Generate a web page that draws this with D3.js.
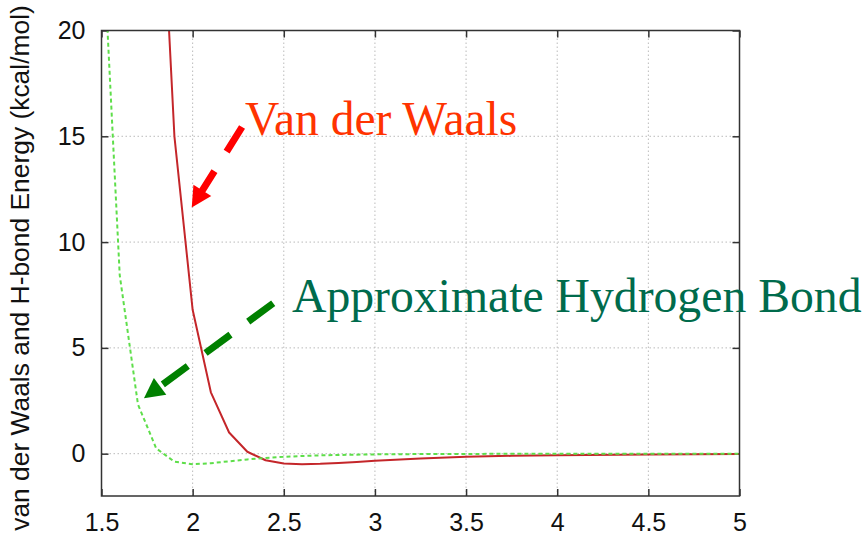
<!DOCTYPE html>
<html><head><meta charset="utf-8">
<script src="https://cdn.jsdelivr.net/npm/d3@7"></script>
<style>body{margin:0;background:#fff}svg{display:block}</style>
</head><body><svg id="c" width="868" height="540"></svg>
<script>
// ---- data ----
const distance    = [1.5, 1.6, 1.7, 1.8, 1.9, 2.0, 2.1, 2.2, 2.3, 2.4, 2.5, 2.6, 2.7, 2.8, 2.9, 3.0, 3.25, 3.5, 3.75, 4.0, 4.5, 5.0];
const vdwEnergy   = [null, null, null, 32, 15, 6.8, 2.9, 1.0, 0.09, -0.31, -0.46, -0.5, -0.48, -0.44, -0.39, -0.33, -0.23, -0.15, -0.1, -0.07, -0.035, -0.02];
const hbondEnergy = [25.7, 8.44, 2.33, 0.25, -0.38, -0.5, -0.45, -0.36, -0.27, -0.2, -0.15, -0.11, -0.08, -0.06, -0.045, -0.033, -0.018, -0.011, -0.006, -0.003, -0.001, 0.0];
const xTicks = [1.5, 2, 2.5, 3, 3.5, 4, 4.5, 5];
const yTicks = [0, 5, 10, 15, 20];
const xDomain = [1.5, 5];
const yDomain = [-2, 20];
const yTitle = "van der Waals and H-bond Energy (kcal/mol)";
const annotationTexts = ["Van der Waals", "Approximate Hydrogen Bond"];
const annotationAt = [[2.287, 15.06], [2.545, 6.70]];          // data coords of text start / baseline
const arrowFrom = [[2.271, 15.44], [2.442, 7.11]];             // data coords
const arrowTo   = [[1.995, 11.64], [1.733, 2.62]];

// ---- layout / style ----
const W = 868, H = 540;
const plot = {left: 101.5, right: 739.5, top: 30.5, bottom: 496};
const svg = d3.select("#c");
const x = d3.scaleLinear().domain(xDomain).range([plot.left, plot.right]);
const y = d3.scaleLinear().domain(yDomain).range([plot.bottom, plot.top]);
const sans = "'Liberation Sans', Arial, Helvetica, sans-serif";
const serif = "'Liberation Serif', 'Times New Roman', serif";

// grid
const grid = svg.append("g");
grid.selectAll(".gx").data(xTicks.slice(1, -1)).join("line")
  .attr("x1", d => x(d)).attr("x2", d => x(d)).attr("y1", plot.top).attr("y2", plot.bottom)
  .attr("stroke", "#bbb").attr("stroke-width", 1).attr("stroke-dasharray", "1.5,2.5");
grid.selectAll(".gy").data(yTicks.filter(d => d < 20)).join("line")
  .attr("y1", d => y(d)).attr("y2", d => y(d)).attr("x1", plot.left).attr("x2", plot.right)
  .attr("stroke", "#bbb").attr("stroke-width", 1).attr("stroke-dasharray", "1.5,2.5");

// axes (inward ticks, mirrored)
function styleAxis(g) {
  g.select(".domain").remove();
  g.selectAll(".tick line").attr("stroke", "#333").attr("stroke-width", 1.5);
  g.selectAll(".tick text").attr("fill", "#111").style("font-family", sans).style("font-size", "25px");
}
svg.append("g").attr("transform", `translate(0,${plot.bottom})`)
  .call(d3.axisBottom(x).tickValues(xTicks).tickSize(-7).tickPadding(17).tickFormat(d => String(d)))
  .call(styleAxis);
svg.append("g").attr("transform", `translate(0,${plot.top})`)
  .call(d3.axisTop(x).tickValues(xTicks).tickSize(-7).tickFormat(""))
  .call(styleAxis);
svg.append("g").attr("transform", `translate(${plot.left},0)`)
  .call(d3.axisLeft(y).tickValues(yTicks).tickSize(-7).tickPadding(16).tickFormat(d => String(d)))
  .call(styleAxis);
svg.append("g").attr("transform", `translate(${plot.right},0)`)
  .call(d3.axisRight(y).tickValues(yTicks).tickSize(-7).tickFormat(""))
  .call(styleAxis);

// curves
svg.append("clipPath").attr("id", "clip").append("rect")
  .attr("x", plot.left).attr("y", plot.top).attr("width", plot.right - plot.left).attr("height", plot.bottom - plot.top);
const cg = svg.append("g").attr("clip-path", "url(#clip)");
const line = vals => d3.line().defined((d, i) => vals[i] !== null)
  .x((d, i) => x(distance[i])).y((d, i) => y(vals[i]))(distance);
cg.append("path").attr("d", line(vdwEnergy)).attr("fill", "none")
  .attr("stroke", "#c4262a").attr("stroke-width", 2).attr("stroke-linejoin", "round");
cg.append("path").attr("d", line(hbondEnergy)).attr("fill", "none")
  .attr("stroke", "#5ede4a").attr("stroke-width", 2).attr("stroke-dasharray", "4,3");

// frame
svg.append("rect").attr("x", plot.left).attr("y", plot.top)
  .attr("width", plot.right - plot.left).attr("height", plot.bottom - plot.top)
  .attr("fill", "none").attr("stroke", "#333").attr("stroke-width", 1.5);

// y title
svg.append("text").attr("transform", `translate(29,${268}) rotate(-90)`)
  .attr("text-anchor", "middle").style("font-family", sans).style("font-size", "26.4px")
  .attr("fill", "#111").text(yTitle);

// annotations
const annColors = ["#ff3300", "#006b4c"];
const arrowColors = ["#ff0000", "#008000"];
const annSizes = [47.5, 47.7];
const dashes = ["29,23", "31,22"];
annotationTexts.forEach((t, i) => {
  svg.append("text").attr("x", x(annotationAt[i][0])).attr("y", y(annotationAt[i][1]))
    .style("font-family", serif).style("font-size", annSizes[i] + "px")
    .attr("fill", annColors[i]).text(t);
  const x0 = x(arrowFrom[i][0]), y0 = y(arrowFrom[i][1]);
  const x1 = x(arrowTo[i][0]), y1 = y(arrowTo[i][1]);
  const dx = x1 - x0, dy = y1 - y0, L = Math.hypot(dx, dy);
  const ux = dx / L, uy = dy / L, hl = 20, hw = 10.5;
  const bx = x1 - ux * hl, by = y1 - uy * hl;
  svg.append("line").attr("x1", x0).attr("y1", y0).attr("x2", bx + ux * 2).attr("y2", by + uy * 2)
    .attr("stroke", arrowColors[i]).attr("stroke-width", 7).attr("stroke-dasharray", dashes[i]);
  svg.append("polygon")
    .attr("points", [[x1, y1], [bx - uy * hw, by + ux * hw], [bx + uy * hw, by - ux * hw]].map(p => p.join(",")).join(" "))
    .attr("fill", arrowColors[i]);
});
</script></body></html>
